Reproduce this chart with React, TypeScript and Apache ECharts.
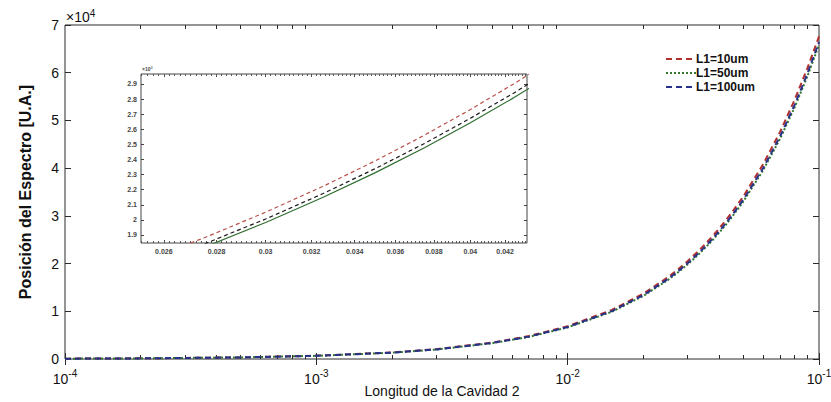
import React, { useEffect, useRef } from "react";
import * as echarts from "echarts";

// ---- data ----
const xValues = [
  0.0001, 0.0002, 0.0005, 0.001, 0.002, 0.003, 0.005, 0.007, 0.01, 0.015, 0.02,
  0.025, 0.0275, 0.03, 0.0325, 0.035, 0.0375, 0.04, 0.0425, 0.045, 0.05, 0.06,
  0.07, 0.08, 0.09, 0.1,
];
const redValues = [
  70, 140, 345, 690, 1380, 2070, 3440, 4810, 6860, 10280, 13690, 17100, 18800,
  20510, 22210, 23910, 25610, 27310, 29000, 30700, 34080, 40850, 47600, 54300,
  61000, 67600,
];
const greenValues = [
  66, 132, 331, 662, 1323, 1985, 3306, 4628, 6610, 9915, 13220, 16520, 18175,
  19830, 21480, 23130, 24780, 26430, 28080, 29730, 33020, 39600, 46170, 52740,
  59300, 65850,
];
const blueValues = [
  67, 134, 335, 670, 1340, 2010, 3350, 4690, 6700, 10040, 13380, 16720, 18390,
  20060, 21730, 23400, 25060, 26730, 28390, 30060, 33380, 40020, 46640, 53260,
  59870, 66450,
];
const seriesNames = ["L1=10um", "L1=50um", "L1=100um"];
const mainYTicks = [0, 10000, 20000, 30000, 40000, 50000, 60000, 70000];
const insetXTickLabels = [
  "0.026", "0.028", "0.03", "0.032", "0.034", "0.036", "0.038", "0.04", "0.042",
];
const insetYTickValues = [
  19000, 20000, 21000, 22000, 23000, 24000, 25000, 26000, 27000, 28000, 29000,
];
const insetXRange = [0.02518, 0.04331];
const insetYRange = [18470, 29660];

const FONT = "'Liberation Sans', Arial, sans-serif";
const AX = "#2a2a2a";

function buildOption() {
  const lg = (v: number) => Math.log10(v);
  const mainMinor: number[] = [];
  for (let e = -4; e <= -2; e++) {
    for (let k = 2; k <= 9; k++) mainMinor.push(lg(k * Math.pow(10, e)));
  }
  const insetMinor: number[] = [];
  for (let v = 0.0252; v <= 0.0433; v += 0.0002) insetMinor.push(lg(v));
  const insetMajor = insetXTickLabels.map((s) => lg(parseFloat(s)));

  const mainData = (vals: number[]) => xValues.map((x, i) => [x, vals[i]]);
  const insetData = (vals: number[]) => xValues.map((x, i) => [lg(x), vals[i]]);

  const tickOnly = (extra: any) => ({
    axisLine: { show: false },
    axisLabel: { show: false },
    splitLine: { show: false },
    ...extra,
  });

  return {
    animation: false,
    backgroundColor: "#fff",
    textStyle: { fontFamily: FONT },
    grid: [
      {
        left: 65, right: 12, top: 25, bottom: 43,
        containLabel: false, outerBoundsMode: "none",
        show: true, borderColor: AX, borderWidth: 1, backgroundColor: "#fff",
      },
      {
        left: 141, top: 74, width: 386, height: 169,
        containLabel: false, outerBoundsMode: "none",
        show: true, borderColor: "#444", borderWidth: 1, backgroundColor: "#fff",
      },
    ],
    legend: {
      data: seriesNames,
      orient: "vertical",
      left: 660,
      top: 48,
      itemWidth: 30,
      itemHeight: 12,
      itemGap: 2,
      itemStyle: { opacity: 0 },
      textStyle: { fontFamily: FONT, fontSize: 12, fontWeight: "bold", color: "#111", padding: [0, 0, 0, -5] },
    },
    xAxis: [
      {
        type: "log", gridIndex: 0, position: "bottom", min: 0.0001, max: 0.1, logBase: 10,
        axisLine: { show: false },
        splitLine: { show: false },
        axisTick: { inside: true, length: 6, lineStyle: { color: AX } },
        axisLabel: {
          margin: 9,
          formatter: (v: number) => `{b|10}{s|${Math.round(Math.log10(v))}}`,
          rich: {
            b: { fontSize: 14, color: "#111", fontFamily: FONT, verticalAlign: "bottom" },
            s: { fontSize: 10, color: "#111", fontFamily: FONT, verticalAlign: "bottom", padding: [0, 0, 8, 0] },
          },
        },
        name: "Longitud de la Cavidad 2",
        nameLocation: "middle",
        nameGap: 25,
        nameMoveOverlap: false,
        nameTextStyle: { fontSize: 14, color: "#111", fontFamily: FONT },
      },
      tickOnly({
        type: "log", gridIndex: 0, position: "top", min: 0.0001, max: 0.1, logBase: 10,
        axisTick: { inside: true, length: 6, lineStyle: { color: AX } },
      }),
      tickOnly({
        type: "value", gridIndex: 0, position: "bottom", min: -4, max: -1,
        axisTick: { inside: true, length: 4, customValues: mainMinor, lineStyle: { color: AX } },
      }),
      tickOnly({
        type: "value", gridIndex: 0, position: "top", min: -4, max: -1,
        axisTick: { inside: true, length: 4, customValues: mainMinor, lineStyle: { color: AX } },
      }),
      {
        type: "value", gridIndex: 1, position: "bottom", min: lg(insetXRange[0]), max: lg(insetXRange[1]),
        axisLine: { show: false },
        splitLine: { show: false },
        axisTick: { inside: true, length: 3, customValues: insetMajor, lineStyle: { color: "#444" } },
        axisLabel: {
          customValues: insetMajor,
          margin: 5,
          fontSize: 7,
          fontWeight: "bold",
          color: "#444",
          fontFamily: FONT,
          formatter: (v: number) => String(parseFloat(Math.pow(10, v).toFixed(3))),
        },
      },
      tickOnly({
        type: "value", gridIndex: 1, position: "top", min: lg(insetXRange[0]), max: lg(insetXRange[1]),
        axisTick: { inside: true, length: 3, customValues: insetMajor, lineStyle: { color: "#444" } },
      }),
      tickOnly({
        type: "value", gridIndex: 1, position: "bottom", min: lg(insetXRange[0]), max: lg(insetXRange[1]),
        axisTick: { inside: true, length: 2, customValues: insetMinor, lineStyle: { color: "#555" } },
      }),
      tickOnly({
        type: "value", gridIndex: 1, position: "top", min: lg(insetXRange[0]), max: lg(insetXRange[1]),
        axisTick: { inside: true, length: 2, customValues: insetMinor, lineStyle: { color: "#555" } },
      }),
    ],
    yAxis: [
      {
        type: "value", gridIndex: 0, position: "left", min: 0, max: 70000,
        axisLine: { show: false },
        splitLine: { show: false },
        axisTick: { inside: true, length: 6, customValues: mainYTicks, lineStyle: { color: AX } },
        axisLabel: {
          customValues: mainYTicks,
          margin: 6,
          fontSize: 14,
          color: "#111",
          fontFamily: FONT,
          formatter: (v: number) => String(v / 10000),
        },
        name: "Posición del Espectro [U.A.]",
        nameLocation: "middle",
        nameRotate: 90,
        nameGap: 32,
        nameMoveOverlap: false,
        nameTextStyle: { fontSize: 16, fontWeight: "bold", color: "#111", fontFamily: FONT },
      },
      tickOnly({
        type: "value", gridIndex: 0, position: "right", min: 0, max: 70000,
        axisTick: { inside: true, length: 6, customValues: mainYTicks, lineStyle: { color: AX } },
      }),
      {
        type: "value", gridIndex: 1, position: "left", min: insetYRange[0], max: insetYRange[1],
        axisLine: { show: false },
        splitLine: { show: false },
        axisTick: { inside: true, length: 3, customValues: insetYTickValues, lineStyle: { color: "#444" } },
        axisLabel: {
          customValues: insetYTickValues,
          margin: 4,
          fontSize: 7,
          fontWeight: "bold",
          color: "#444",
          fontFamily: FONT,
          formatter: (v: number) => String(parseFloat((v / 10000).toFixed(1))),
        },
      },
      tickOnly({
        type: "value", gridIndex: 1, position: "right", min: insetYRange[0], max: insetYRange[1],
        axisTick: { inside: true, length: 3, customValues: insetYTickValues, lineStyle: { color: "#444" } },
      }),
    ],
    graphic: [
      {
        type: "text",
        left: 66,
        top: 8,
        style: {
          text: "×10{s|4}",
          font: `14px ${FONT}`,
          fill: "#111",
          rich: { s: { fontSize: 10, fill: "#111", verticalAlign: "bottom", padding: [0, 0, 8, 0] } },
        },
      },
      {
        type: "text",
        left: 142,
        top: 65,
        style: {
          text: "×10{s|4}",
          font: `bold 5px ${FONT}`,
          fill: "#444",
          rich: { s: { fontSize: 4, fill: "#444", verticalAlign: "bottom", padding: [0, 0, 3, 0] } },
        },
      },
    ],
    series: [
      {
        name: seriesNames[0], type: "line", xAxisIndex: 0, yAxisIndex: 0,
        data: mainData(redValues), symbol: "none", showSymbol: false,
        lineStyle: { color: "#b0302e", width: 2, type: [6, 4] }, itemStyle: { color: "#b0302e" },
      },
      {
        name: seriesNames[1], type: "line", xAxisIndex: 0, yAxisIndex: 0,
        data: mainData(greenValues), symbol: "none", showSymbol: false,
        lineStyle: { color: "#2f7a2f", width: 2, type: [2, 2] }, itemStyle: { color: "#2f7a2f" },
      },
      {
        name: seriesNames[2], type: "line", xAxisIndex: 0, yAxisIndex: 0,
        data: mainData(blueValues), symbol: "none", showSymbol: false,
        lineStyle: { color: "#27318a", width: 2, type: [6, 4] }, itemStyle: { color: "#27318a" },
      },
      {
        name: "inset-red", type: "line", xAxisIndex: 4, yAxisIndex: 2,
        data: insetData(redValues), symbol: "none", showSymbol: false,
        lineStyle: { color: "#b8524a", width: 1.2, type: [4, 3] },
      },
      {
        name: "inset-green", type: "line", xAxisIndex: 4, yAxisIndex: 2,
        data: insetData(greenValues), symbol: "none", showSymbol: false,
        lineStyle: { color: "#2f6f2f", width: 1.2, type: "solid" },
      },
      {
        name: "inset-blue", type: "line", xAxisIndex: 4, yAxisIndex: 2,
        data: insetData(blueValues), symbol: "none", showSymbol: false,
        lineStyle: { color: "#1a1a1a", width: 1.2, type: [4, 3] },
      },
    ],
  };
}

export default function App() {
  const ref = useRef<HTMLDivElement>(null);
  useEffect(() => {
    if (!ref.current) return;
    const chart = echarts.init(ref.current, undefined, { renderer: "svg" });
    chart.setOption(buildOption() as any);
    return () => chart.dispose();
  }, []);
  return (
    <div
      ref={ref}
      style={{ position: "fixed", left: 0, top: 0, width: 831, height: 402, background: "#fff" }}
    />
  );
}
